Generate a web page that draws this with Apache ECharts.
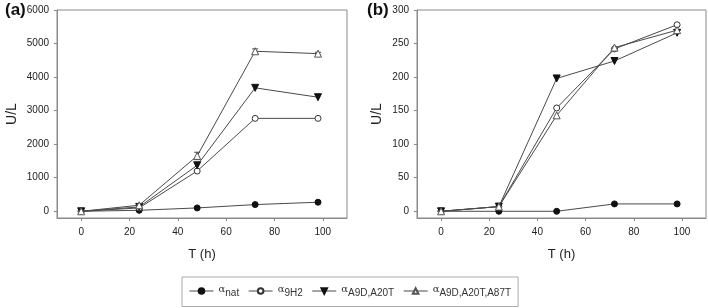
<!DOCTYPE html>
<html>
<head>
<meta charset="utf-8">
<script src="https://cdn.jsdelivr.net/npm/echarts@6/dist/echarts.min.js"></script>
<style>
  html, body { margin: 0; padding: 0; background: #fff; }
  #chart { width: 708px; height: 308px; }
</style>
</head>
<body>
<div id="chart"></div>
<script>
// sampling times (h)
const hours = [0, 24, 48, 72, 98];
const xTicks = [0, 20, 40, 60, 80, 100];
const yTicksA = [0, 1000, 2000, 3000, 4000, 5000, 6000];
const yTicksB = [0, 50, 100, 150, 200, 250, 300];

// panel (a)
const natA = [0, 30, 100, 200, 270];
const h2A = [0, 100, 1200, 2770, 2770];
const a20tA = [0, 130, 1370, 3680, 3400];
const a87tA = [0, 180, 1650, 4770, 4700];
const a87tErrA = [0, 0, 110, 70, 40];

// panel (b)
const natB = [0, 0, 0, 11, 11];
const h2B = [0, 7, 154, 242, 278];
const a20tB = [0, 7, 198, 224, 266];
const a87tB = [0, 7, 143, 244, 270];

const names = ['nat', '9H2', 'A9D,A20T', 'A9D,A20T,A87T'];

const LINE = '#4a4a4a';
const AXIS = '#8a8a8a';
const FONT = 'Liberation Sans';

const pairs = vals => hours.map((h, i) => [h, vals[i]]);

// marker look per series
const markers = [
  { symbol: 'circle', symbolSize: 6, symbolRotate: 0, itemStyle: { color: '#111', borderColor: '#111', borderWidth: 1 } },
  { symbol: 'circle', symbolSize: 6, symbolRotate: 0, itemStyle: { color: '#fff', borderColor: '#333', borderWidth: 1 } },
  { symbol: 'triangle', symbolSize: 7, symbolRotate: 180, itemStyle: { color: '#111', borderColor: '#111', borderWidth: 1 } },
  { symbol: 'triangle', symbolSize: 7, symbolRotate: 0, itemStyle: { color: '#fff', borderColor: '#555', borderWidth: 1 } }
];

function lineSeries(idx, vals, axisIdx) {
  return Object.assign({
    type: 'line',
    name: names[idx],
    xAxisIndex: axisIdx,
    yAxisIndex: axisIdx,
    data: pairs(vals),
    showAllSymbol: true,
    lineStyle: { color: LINE, width: 1 },
    animation: false,
    z: 3 + idx
  }, markers[idx]);
}

function xAxis(gridIndex) {
  return {
    type: 'value',
    gridIndex,
    min: -10,
    max: 110,
    name: 'T (h)',
    nameLocation: 'middle',
    nameGap: 30,
    nameTextStyle: { fontFamily: FONT, fontSize: 13, color: '#222' },
    axisLine: { onZero: false, lineStyle: { color: AXIS } },
    axisTick: { length: 3, lineStyle: { color: AXIS }, customValues: xTicks },
    axisLabel: { fontFamily: FONT, fontSize: 10, color: '#222', margin: 9, customValues: xTicks, formatter: v => String(v) },
    splitLine: { show: false }
  };
}

function yAxis(gridIndex, min, max, ticks, gap) {
  return {
    type: 'value',
    gridIndex,
    min,
    max,
    name: 'U/L',
    nameLocation: 'middle',
    nameGap: gap,
    nameTextStyle: { fontFamily: FONT, fontSize: 14, color: '#222' },
    axisLine: { show: true, onZero: false, lineStyle: { color: AXIS } },
    axisTick: { show: true, length: 3, lineStyle: { color: AXIS }, customValues: ticks },
    axisLabel: { fontFamily: FONT, fontSize: 10, color: '#222', margin: 8, customValues: ticks, formatter: v => String(v) },
    splitLine: { show: false }
  };
}

const errorBars = {
  type: 'custom',
  xAxisIndex: 0,
  yAxisIndex: 0,
  data: hours.map((h, i) => [h, a87tA[i] - a87tErrA[i], a87tA[i] + a87tErrA[i]]).filter((d, i) => a87tErrA[i] > 0),
  renderItem: (params, api) => {
    const lo = api.coord([api.value(0), api.value(1)]);
    const hi = api.coord([api.value(0), api.value(2)]);
    const w = 3;
    const style = { stroke: '#444', lineWidth: 1 };
    return {
      type: 'group',
      children: [
        { type: 'line', shape: { x1: lo[0], y1: lo[1], x2: hi[0], y2: hi[1] }, style },
        { type: 'line', shape: { x1: lo[0] - w, y1: lo[1], x2: lo[0] + w, y2: lo[1] }, style },
        { type: 'line', shape: { x1: hi[0] - w, y1: hi[1], x2: hi[0] + w, y2: hi[1] }, style }
      ]
    };
  },
  animation: false,
  z: 2
};

const chart = echarts.init(document.getElementById('chart'));

const legendRich = {
  a: { fontFamily: 'DejaVu Serif', fontSize: 10, color: '#333', padding: [0, 0, 4, 0] },
  s: { fontFamily: FONT, fontSize: 10, color: '#333', padding: [5, 0, 0, 0] }
};

chart.setOption({
  backgroundColor: '#fff',
  animation: false,
  title: [
    { text: '(a)', left: 0, top: -3, textStyle: { fontFamily: FONT, fontSize: 17, fontWeight: 'bold', color: '#111' } },
    { text: '(b)', left: 362, top: -3, textStyle: { fontFamily: FONT, fontSize: 17, fontWeight: 'bold', color: '#111' } }
  ],
  grid: [
    { left: 57, top: 10, width: 290, height: 208, show: true, borderColor: AXIS, borderWidth: 1, outerBoundsMode: 'none' },
    { left: 417, top: 10, width: 289, height: 208, show: true, borderColor: AXIS, borderWidth: 1, outerBoundsMode: 'none' }
  ],
  xAxis: [xAxis(0), xAxis(1)],
  yAxis: [yAxis(0, -200, 6000, yTicksA, 38), yAxis(1, -10, 300, yTicksB, 33)],
  legend: {
    data: names,
    left: 182,
    top: 277,
    orient: 'horizontal',
    itemWidth: 24,
    itemHeight: 7,
    itemGap: 9,
    padding: [7, 7, 8, 7],
    borderColor: '#aaa',
    borderWidth: 1,
    lineStyle: { width: 1, color: LINE },
    formatter: name => '{a|α}{s|' + name + '}',
    textStyle: { rich: legendRich }
  },
  series: [
    lineSeries(0, natA, 0),
    lineSeries(1, h2A, 0),
    lineSeries(2, a20tA, 0),
    lineSeries(3, a87tA, 0),
    errorBars,
    lineSeries(0, natB, 1),
    lineSeries(1, h2B, 1),
    lineSeries(2, a20tB, 1),
    lineSeries(3, a87tB, 1)
  ]
});
</script>
</body>
</html>
